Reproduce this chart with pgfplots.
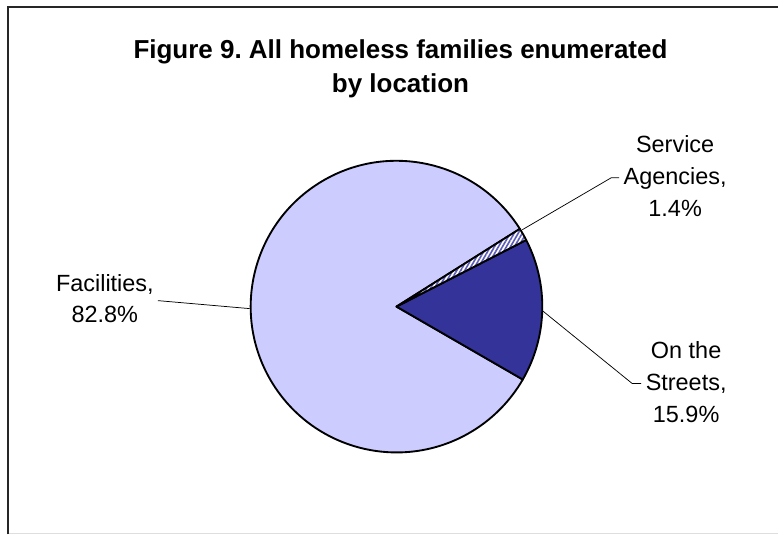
\documentclass[border=0pt]{standalone}
\usepackage{fontspec}
\setmainfont{Liberation Sans}
\usepackage{pgfplots}
\usepackage{pgfplotstable}
\pgfplotsset{compat=1.18}
\usetikzlibrary{patterns.meta}
\definecolor{facil}{HTML}{CCCCFF}
\definecolor{street}{HTML}{333399}
\definecolor{agency}{HTML}{5A5AB8}
\frenchspacing

\pgfplotstableread{
name value
Facilities 82.8
Streets 15.9
Agencies 1.4
}\piedata

\begin{document}
\begin{tikzpicture}
\pgfplotstablegetelem{0}{value}\of\piedata \let\vF\pgfplotsretval
\pgfplotstablegetelem{1}{value}\of\piedata \let\vS\pgfplotsretval
\pgfplotstablegetelem{2}{value}\of\piedata \let\vA\pgfplotsretval
\pgfmathsetmacro{\tot}{\vF+\vS+\vA}
\pgfmathsetmacro{\aS}{-30}
\pgfmathsetmacro{\bS}{\aS+\vS/\tot*360}
\pgfmathsetmacro{\bA}{\bS+\vA/\tot*360}
\pgfmathsetmacro{\bF}{\bA+\vF/\tot*360}
\def\R{109.5pt}
\begin{axis}[hide axis, x=0.75pt, y=0.75pt, xmin=0, xmax=779, ymin=0, ymax=535, clip=false]
\path (axis cs:0,0) rectangle (axis cs:779,535);
% frame
\draw[line width=1.5pt, black!85] (axis cs:8,0) -- (axis cs:8,528) -- (axis cs:779,528);
\draw[line width=0.75pt, black!13] (axis cs:9,1) -- (axis cs:779,1);
% slices
\filldraw[fill=facil, draw=black, line width=1.4pt, line join=round]
  (axis cs:397,228) -- ++(\bA:\R) arc[start angle=\bA, end angle=\bF, radius=\R] -- cycle;
\filldraw[fill=street, draw=black, line width=1.4pt, line join=round]
  (axis cs:397,228) -- ++(\aS:\R) arc[start angle=\aS, end angle=\bS, radius=\R] -- cycle;
\fill[white] (axis cs:397,228) -- ++(\bS:\R) arc[start angle=\bS, end angle=\bA, radius=\R] -- cycle;
\fill[pattern={Lines[angle=60, distance=2.6pt, line width=1.2pt]}, pattern color=agency]
  (axis cs:397,228) -- ++(\bS:\R) arc[start angle=\bS, end angle=\bA, radius=\R] -- cycle;
\draw[black, line width=1.4pt, line join=round]
  (axis cs:397,228) -- ++(\bS:\R) arc[start angle=\bS, end angle=\bA, radius=\R] -- cycle;
% leader lines
\draw[black, line width=0.55pt] (axis cs:523,305) -- (axis cs:612,357) -- (axis cs:620,357);
\draw[black, line width=0.55pt] (axis cs:543,224) -- (axis cs:633,151) -- (axis cs:642,151);
\draw[black, line width=0.55pt] (axis cs:250,226) -- (axis cs:158,234);
% labels
\node[align=center, font=\fontsize{19.5}{25.5}\selectfont\bfseries] at (axis cs:401,466)
  {Figure 9. All homeless families enumerated\\by location};
\node[align=center, font=\fontsize{17.6}{24}\selectfont] at (axis cs:676,359) {Service\\Agencies,\\1.4\%};
\node[align=center, font=\fontsize{17.6}{24}\selectfont] at (axis cs:687,152) {On the\\Streets,\\15.9\%};
\node[align=center, font=\fontsize{17.6}{24}\selectfont] at (axis cs:105,236) {Facilities,\\82.8\%};
\end{axis}
\end{tikzpicture}
\end{document}
